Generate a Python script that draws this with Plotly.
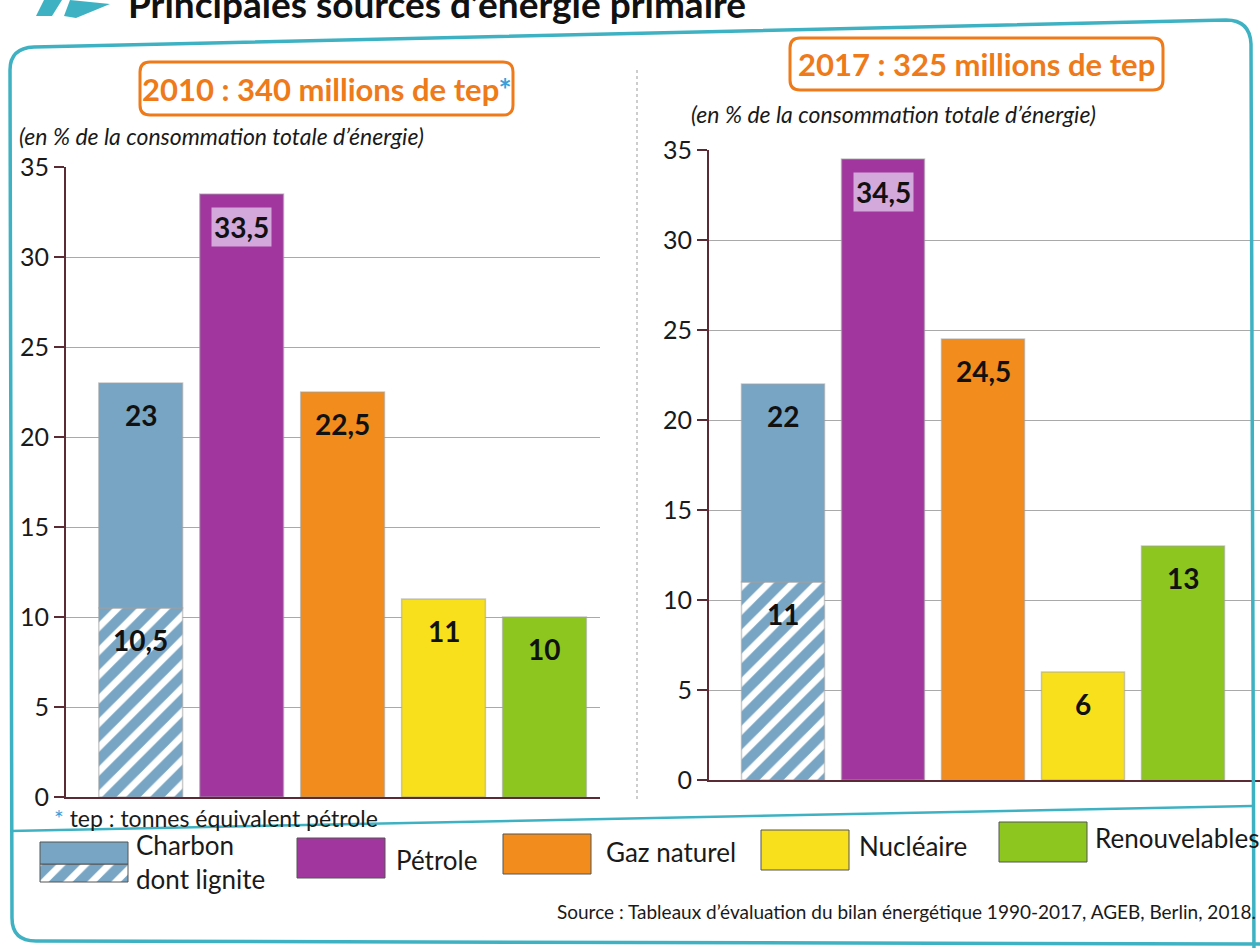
import plotly.graph_objects as go

# ---------------- data ----------------
CATEGORIES = ["Charbon", "Pétrole", "Gaz naturel", "Nucléaire", "Renouvelables"]
VALUES_2010 = [23, 33.5, 22.5, 11, 10]
LIGNITE_2010 = 10.5
VALUES_2017 = [22, 34.5, 24.5, 6, 13]
LIGNITE_2017 = 11
Y_TICKS = [0, 5, 10, 15, 20, 25, 30, 35]
TITLE_2010 = "2010 : 340 millions de tep"
TITLE_2017 = "2017 : 325 millions de tep"
SUBTITLE = "(en % de la consommation totale d’énergie)"
LEGEND_LABELS = ["Charbon<br>dont lignite", "Pétrole", "Gaz naturel", "Nucléaire", "Renouvelables"]
SOURCE = "Source : Tableaux d’évaluation du bilan énergétique 1990-2017, AGEB, Berlin, 2018."
FOOTNOTE = "tep : tonnes équivalent pétrole"

# ---------------- style ----------------
W, H = 1260, 948
BLUE = "#77a5c3"
COLORS = [BLUE, "#a1369e", "#f28c1c", "#f8e11c", "#8cc61f"]
PETROLE_LABEL_BG = "#d3a8da"
AXIS_COL = "#5a2a35"
GRID_COL = "#a9a9a9"
TEAL = "#3eb2c2"
ORANGE_T = "#ee7a1a"
STAR = "#3a9fd8"
FONT = "Lato"
BAR_W = 0.83


def px(x):
    return x / W


def py(y):
    return 1 - y / H


def fmt(v):
    return f"{v:g}".replace(".", ",")


fig = go.Figure()

panels = [
    ("x", "y", VALUES_2010, LIGNITE_2010),
    ("x2", "y2", VALUES_2017, LIGNITE_2017),
]
pattern = dict(shape="/", fgcolor=BLUE, bgcolor="white", size=17, solidity=0.6, fgopacity=1)
bar_line = dict(color="rgba(160,160,160,0.55)", width=1.5)

annotations = []
for xa, ya, vals, lig in panels:
    fig.add_trace(go.Bar(x=[CATEGORIES[0]], y=[lig], width=BAR_W,
                         marker=dict(color="white", pattern=pattern, line=bar_line),
                         xaxis=xa, yaxis=ya, hoverinfo="skip"))
    fig.add_trace(go.Bar(x=[CATEGORIES[0]], y=[vals[0] - lig], base=[lig], width=BAR_W,
                         marker=dict(color=BLUE, line=bar_line),
                         xaxis=xa, yaxis=ya, hoverinfo="skip"))
    fig.add_trace(go.Bar(x=CATEGORIES[1:], y=vals[1:], width=BAR_W,
                         marker=dict(color=COLORS[1:], line=bar_line),
                         xaxis=xa, yaxis=ya, hoverinfo="skip"))
    labels = [(CATEGORIES[0], vals[0], None), (CATEGORIES[0], lig, None)]
    for c, v in zip(CATEGORIES[1:], vals[1:]):
        labels.append((c, v, PETROLE_LABEL_BG if c == "Pétrole" else None))
    for c, v, bg in labels:
        a = dict(x=c, y=v, xref=xa, yref=ya, text=f"<b>{fmt(v)}</b>", showarrow=False,
                 xanchor="center", yanchor="top", yshift=-13,
                 font=dict(family=FONT, size=28, color="#111"))
        if bg:
            a.update(bgcolor=bg, borderpad=2)
        annotations.append(a)

# ---- legend swatches on a pixel-like helper axis ----
LEG_X = [84, 341, 547, 805, 1043]
LEG_TOP = [842, 838, 834, 830, 822]
LEG_H = 40
LEG_W = 88
fig.add_trace(go.Bar(x=[LEG_X[0]], y=[LEG_H * 0.45], base=[LEG_TOP[0] + LEG_H * 0.55], width=LEG_W,
                     marker=dict(color="white", pattern=pattern, line=dict(color="#555", width=1)),
                     xaxis="x3", yaxis="y3", hoverinfo="skip"))
fig.add_trace(go.Bar(x=[LEG_X[0]], y=[LEG_H * 0.55], base=[LEG_TOP[0]], width=LEG_W,
                     marker=dict(color=BLUE, line=dict(color="#555", width=1)),
                     xaxis="x3", yaxis="y3", hoverinfo="skip"))
fig.add_trace(go.Bar(x=LEG_X[1:], y=[LEG_H] * 4, base=LEG_TOP[1:], width=LEG_W,
                     marker=dict(color=COLORS[1:], line=dict(color="#555", width=1)),
                     xaxis="x3", yaxis="y3", hoverinfo="skip"))

LEG_LABEL_X = [134, 394, 604, 857, 1093]
LEG_LABEL_Y = [862, 860, 852, 846, 838]
for t, x, y in zip(LEGEND_LABELS, LEG_LABEL_X, LEG_LABEL_Y):
    annotations.append(dict(x=px(x), y=py(y), xref="paper", yref="paper", text=t, showarrow=False,
                            xanchor="left", yanchor="middle", align="left",
                            font=dict(family=FONT, size=26, color="#1a1a1a")))


def txt(x, y, text, size, color="#1a1a1a", xanchor="center"):
    annotations.append(dict(x=px(x), y=py(y), xref="paper", yref="paper", text=text,
                            showarrow=False, xanchor=xanchor, yanchor="middle",
                            font=dict(family=FONT, size=size, color=color)))


txt(327, 89, f"<b>{TITLE_2010}<span style='color:{STAR}'>*</span></b>", 31, ORANGE_T)
txt(976, 64, f"<b>{TITLE_2017}</b>", 31, ORANGE_T)
txt(17, 136, f"<i>{SUBTITLE}</i>", 23, xanchor="left")
txt(689, 114, f"<i>{SUBTITLE}</i>", 23, xanchor="left")
txt(52, 818, f"<span style='color:{STAR}'>*</span> {FOOTNOTE}", 23, xanchor="left")
txt(1258, 911, SOURCE, 19, xanchor="right")
txt(126, 3, "<b>Principales sources d’énergie primaire</b>", 37, "#111", xanchor="left")


def rrect(x0, y0, x1, y1, r):
    return (f"M {px(x0 + r)},{py(y0)} L {px(x1 - r)},{py(y0)} Q {px(x1)},{py(y0)} {px(x1)},{py(y0 + r)} "
            f"L {px(x1)},{py(y1 - r)} Q {px(x1)},{py(y1)} {px(x1 - r)},{py(y1)} "
            f"L {px(x0 + r)},{py(y1)} Q {px(x0)},{py(y1)} {px(x0)},{py(y1 - r)} "
            f"L {px(x0)},{py(y0 + r)} Q {px(x0)},{py(y0)} {px(x0 + r)},{py(y0)} Z")


shapes = [
    dict(type="path", path=rrect(140, 62, 513, 115, 10), xref="paper", yref="paper",
         line=dict(color=ORANGE_T, width=3), fillcolor="rgba(0,0,0,0)"),
    dict(type="path", path=rrect(790, 38, 1163, 90, 10), xref="paper", yref="paper",
         line=dict(color=ORANGE_T, width=3), fillcolor="rgba(0,0,0,0)"),
    dict(type="path", xref="paper", yref="paper", line=dict(color=TEAL, width=3.5),
         path=(f"M {px(1254)},{py(960)} L {px(1251)},{py(44)} Q {px(1250)},{py(20)} {px(1226)},{py(20)} "
               f"L {px(34)},{py(47)} Q {px(10)},{py(48)} {px(10)},{py(70)} "
               f"L {px(12)},{py(918)} Q {px(12)},{py(941)} {px(36)},{py(941)} L {px(1260)},{py(944)}")),
    dict(type="line", xref="paper", yref="paper", x0=px(10), y0=py(831), x1=px(1252), y1=py(806),
         line=dict(color=TEAL, width=2.5)),
    dict(type="line", xref="paper", yref="paper", x0=px(637), y0=py(70), x1=px(637), y1=py(800),
         line=dict(color="#bdbdbd", width=1.5, dash="dot")),
    dict(type="path", xref="paper", yref="paper", fillcolor=TEAL, line=dict(width=0),
         path=f"M {px(44)},{py(0)} L {px(62)},{py(0)} L {px(52)},{py(16)} L {px(36)},{py(16)} Z"),
    dict(type="path", xref="paper", yref="paper", fillcolor=TEAL, line=dict(width=0),
         path=f"M {px(70)},{py(0)} L {px(110)},{py(4)} L {px(76)},{py(18)} L {px(64)},{py(16)} Z"),
]

yaxis_common = dict(range=[0, 35], tickvals=Y_TICKS, ticks="outside", ticklen=10, tickwidth=2,
                    tickcolor=AXIS_COL, showline=True, linecolor=AXIS_COL, linewidth=2,
                    showgrid=True, gridcolor=GRID_COL, gridwidth=1, zeroline=False, automargin=False,
                    tickfont=dict(family=FONT, size=25, color="#1a1a1a"), fixedrange=True)
xaxis_common = dict(type="category", categoryorder="array", categoryarray=CATEGORIES,
                    showticklabels=False, ticks="", showline=True, linecolor=AXIS_COL, linewidth=2,
                    showgrid=False, zeroline=False, fixedrange=True, automargin=False)

fig.update_layout(
    width=W, height=H, margin=dict(l=0, r=0, t=0, b=0, pad=0, autoexpand=False),
    paper_bgcolor="white", plot_bgcolor="rgba(0,0,0,0)",
    barmode="overlay", showlegend=False, hovermode=False,
    xaxis=dict(xaxis_common, domain=[px(66), px(600)], range=[-0.74, 4.55], anchor="y"),
    yaxis=dict(yaxis_common, domain=[py(797), py(167)], anchor="x"),
    xaxis2=dict(xaxis_common, domain=[px(709), 1.0], range=[-0.74, 4.77], anchor="y2"),
    yaxis2=dict(yaxis_common, domain=[py(780), py(150)], anchor="x2"),
    xaxis3=dict(domain=[0, 1], range=[0, W], visible=False, fixedrange=True, automargin=False),
    yaxis3=dict(domain=[0, 1], range=[H, 0], visible=False, fixedrange=True, anchor="x3",
                automargin=False),
    annotations=annotations, shapes=shapes,
)

fig.write_html("out.html", config={"displayModeBar": False},
               post_script="document.body.style.margin='0';document.body.style.overflow='hidden';")
